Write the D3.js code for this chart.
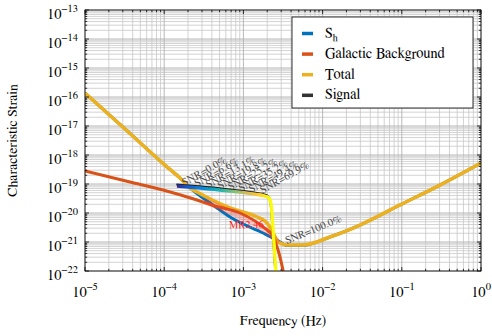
<!DOCTYPE html>
<html><head><meta charset="utf-8">
<script src="https://cdn.jsdelivr.net/npm/d3@7"></script>
<style>
body{margin:0;background:#fff}
svg{display:block}
svg text{font-family:"Nimbus Roman","Nimbus Roman No9 L","FreeSerif","Liberation Serif","DejaVu Serif","Times",serif}
</style></head><body>
<svg id="chart" width="492" height="336"></svg>
<script>
// ---- data ----
const shFreq   = [1e-5, 3.2e-5, 1.02e-4, 1.58e-4, 2.0e-4, 4.13e-4, 6.78e-4, 1.77e-3, 2.65e-3, 3.56e-3, 5.66e-3, 1.24e-2, 2.97e-2, 9.49e-2, 0.303, 1];
const shStrain = [1.37e-16, 7.9e-18, 4.5e-19, 1.61e-19, 8.5e-20, 1.89e-20, 7.3e-21, 2.04e-21, 1.17e-21, 7.6e-22, 7.7e-22, 1.49e-21, 3.85e-21, 1.89e-20, 9.2e-20, 5.3e-19];

const galFreq   = [1e-5, 3.7e-5, 9.66e-5, 2.6e-4, 4.38e-4, 9.06e-4, 1.77e-3, 2.37e-3, 2.74e-3, 3.16e-3, 3.35e-3];
const galStrain = [2.8e-19, 1.17e-19, 6.2e-20, 2.8e-20, 1.74e-20, 1.0e-20, 3.3e-21, 1.49e-21, 5.3e-22, 1.08e-22, 4.9e-23];

const totFreq   = [1e-5, 3.2e-5, 1.02e-4, 1.58e-4, 2.12e-4, 2.6e-4, 6.78e-4, 1.49e-3, 1.99e-3, 2.37e-3, 2.74e-3, 3.56e-3, 5.66e-3, 1.24e-2, 2.97e-2, 9.49e-2, 0.303, 1];
const totStrain = [1.37e-16, 7.9e-18, 4.5e-19, 1.61e-19, 7.3e-20, 5.3e-20, 1.49e-20, 7.3e-21, 4.5e-21, 2.04e-21, 1.0e-21, 7.9e-22, 7.9e-22, 1.49e-21, 3.85e-21, 1.89e-20, 9.2e-20, 5.3e-19];

const mrFreq   = [3.27e-4, 6.78e-4, 1.40e-3, 2.17e-3, 2.74e-3];
const mrStrain = [2.6e-20, 1.08e-20, 4.2e-21, 1.89e-21, 9.2e-22];
const mrLabel  = 'MR2.46';

const sigFreq   = [1.45e-4, 2.83e-4, 6.78e-4, 1.40e-3, 1.87e-3, 2.10e-3, 2.23e-3, 2.37e-3, 2.51e-3, 2.65e-3];
const sigStrain = [8.5e-20, 7.3e-20, 5.7e-20, 4.5e-20, 3.85e-20, 3.3e-20, 2.04e-20, 2.6e-21, 2.4e-22, 2.2e-23];

const snrText   = ['SNR=0.0%', 'SNR=6.6%', 'SNR=13.1%', 'SNR=19.8%', 'SNR=25.2%', 'SNR=35.2%', 'SNR=49.4%', 'SNR=69.9%', 'SNR=100.0%'];
const snrFreq   = [1.6e-4, 2.3e-4, 3.2e-4, 4.5e-4, 6.1e-4, 8.3e-4, 1.12e-3, 1.55e-3, 3.16e-3];
const snrStrain = [7.9e-20, 7.3e-20, 6.6e-20, 6.0e-20, 5.5e-20, 5.0e-20, 4.6e-20, 4.3e-20, 7.9e-22];

const xTickExp = [-5, -4, -3, -2, -1, 0];
const yTickExp = [-22, -21, -20, -19, -18, -17, -16, -15, -14, -13];

const legendNames = ['S', 'Galactic Background', 'Total', 'Signal'];
const colors = {sh: '#0072BD', gal: '#D95319', tot: '#EDB120', sig: '#262626'};
const parula = ['#352a87', '#0f5cdd', '#1481d6', '#06a4ca', '#2eb7a4', '#87bf77', '#d1bb59', '#fec832', '#f9fb0e'];

// ---- layout ----
const svg = d3.select('#chart');
const L = 85, R = 481, T = 10, B = 271;
const x = d3.scaleLog().domain([1e-5, 1]).range([L, R]);
const y = d3.scaleLog().domain([1e-22, 1e-13]).range([B, T]);

const defs = svg.append('defs');
defs.append('clipPath').attr('id', 'clip')
  .append('rect').attr('x', L).attr('y', T).attr('width', R - L).attr('height', B - T);

const grad = defs.append('linearGradient').attr('id', 'sigGrad')
  .attr('gradientUnits', 'userSpaceOnUse')
  .attr('x1', x(sigFreq[0])).attr('x2', x(sigFreq[5])).attr('y1', 0).attr('y2', 0);
parula.forEach((c, i) => grad.append('stop').attr('offset', i / (parula.length - 1)).attr('stop-color', c));

// ---- grid ----
const minorOf = (lo, hi) => {
  const out = [];
  for (let e = lo; e < hi; e++) for (let k = 2; k <= 9; k++) out.push(k * Math.pow(10, e));
  return out;
};
const xMinor = minorOf(-5, 0), yMinor = minorOf(-22, -13);
const xMajor = xTickExp.map(e => Math.pow(10, e)), yMajor = yTickExp.map(e => Math.pow(10, e));

const grid = svg.append('g');
grid.selectAll('line.vx').data(xMinor).join('line')
  .attr('x1', d => x(d)).attr('x2', d => x(d)).attr('y1', T).attr('y2', B)
  .attr('stroke', '#c8c8c8').attr('stroke-width', 0.8);
grid.selectAll('line.hy').data(yMinor).join('line')
  .attr('x1', L).attr('x2', R).attr('y1', d => y(d)).attr('y2', d => y(d))
  .attr('stroke', '#c8c8c8').attr('stroke-width', 0.8);
grid.selectAll('line.vX').data(xMajor).join('line')
  .attr('x1', d => x(d)).attr('x2', d => x(d)).attr('y1', T).attr('y2', B)
  .attr('stroke', '#b0b0b0').attr('stroke-width', 0.9);
grid.selectAll('line.hY').data(yMajor).join('line')
  .attr('x1', L).attr('x2', R).attr('y1', d => y(d)).attr('y2', d => y(d))
  .attr('stroke', '#b0b0b0').attr('stroke-width', 0.9);

// ---- curves ----
const plot = svg.append('g').attr('clip-path', 'url(#clip)');
const line = d3.line().x(d => x(d[0])).y(d => y(d[1])).curve(d3.curveMonotoneX);
const zip = (a, b) => a.map((v, i) => [v, b[i]]);

plot.append('path').attr('d', line(zip(shFreq, shStrain)))
  .attr('fill', 'none').attr('stroke', colors.sh).attr('stroke-width', 3);
plot.append('path').attr('d', line(zip(totFreq, totStrain)))
  .attr('fill', 'none').attr('stroke', colors.tot).attr('stroke-width', 3.6);
plot.append('path').attr('d', line(zip(galFreq, galStrain)))
  .attr('fill', 'none').attr('stroke', colors.gal).attr('stroke-width', 3);
plot.append('path').attr('d', line(zip(mrFreq, mrStrain)))
  .attr('fill', 'none').attr('stroke', '#ff2a2a').attr('stroke-opacity', 0.25).attr('stroke-width', 6);

// signal: thin black trace just above a parula-coloured band
plot.append('path').attr('d', line(zip(sigFreq, sigStrain)))
  .attr('transform', 'translate(-0.6,-1.6)')
  .attr('fill', 'none').attr('stroke', '#111').attr('stroke-width', 2);
plot.append('path').attr('d', line(zip(sigFreq, sigStrain)))
  .attr('fill', 'none').attr('stroke', 'url(#sigGrad)').attr('stroke-width', 3.4);

// ---- annotations ----
plot.append('text').attr('x', x(mrFreq[1]) - 1).attr('y', y(mrStrain[2]) + 4)
  .attr('fill', '#ff2020').attr('font-size', 10.5).text(mrLabel);

plot.selectAll('text.snr').data(snrText).join('text')
  .attr('class', 'snr')
  .attr('transform', (d, i) => `translate(${x(snrFreq[i]) + 4},${y(snrStrain[i]) - 1}) rotate(${i === 8 ? -22 : -29})`)
  .attr('fill', '#4a4a4a').attr('font-size', 10.8).text(d => d);

// ---- frame + inward ticks ----
const ax = svg.append('g').attr('stroke', '#000').attr('stroke-width', 0.8);
ax.append('rect').attr('x', L).attr('y', T).attr('width', R - L).attr('height', B - T).attr('fill', 'none');
const tick = (vals, len, horiz) => vals.forEach(v => {
  if (horiz) {
    ax.append('line').attr('x1', x(v)).attr('x2', x(v)).attr('y1', B).attr('y2', B - len);
    ax.append('line').attr('x1', x(v)).attr('x2', x(v)).attr('y1', T).attr('y2', T + len);
  } else {
    ax.append('line').attr('y1', y(v)).attr('y2', y(v)).attr('x1', L).attr('x2', L + len);
    ax.append('line').attr('y1', y(v)).attr('y2', y(v)).attr('x1', R).attr('x2', R - len);
  }
});
tick(xMajor, 4, true); tick(xMinor, 2.2, true);
tick(yMajor, 4, false); tick(yMinor, 2.2, false);

// ---- tick labels ----
const tl = svg.append('g').attr('fill', '#000');
xTickExp.forEach(e => {
  const t = tl.append('text').attr('x', x(Math.pow(10, e))).attr('y', 297).attr('text-anchor', 'middle').attr('font-size', 14.5);
  t.append('tspan').text('10');
  t.append('tspan').attr('dy', -7).attr('font-size', 10.5).text(e < 0 ? '\u2212' + (-e) : e);
});
yTickExp.forEach(e => {
  const t = tl.append('text').attr('x', 78).attr('y', y(Math.pow(10, e)) + 9).attr('text-anchor', 'end').attr('font-size', 14.5);
  t.append('tspan').text('10');
  t.append('tspan').attr('dy', -7).attr('font-size', 10.5).text('\u2212' + (-e));
});

// ---- axis titles ----
svg.append('text').attr('x', (L + R) / 2).attr('y', 325).attr('text-anchor', 'middle')
  .attr('font-size', 14).text('Frequency (Hz)');
svg.append('text').attr('transform', `translate(17,${(T + B) / 2}) rotate(-90)`).attr('text-anchor', 'middle')
  .attr('font-size', 14).text('Characteristic Strain');

// ---- legend ----
const lg = svg.append('g');
lg.append('rect').attr('x', 292).attr('y', 17).attr('width', 181).attr('height', 91)
  .attr('fill', '#fff').attr('stroke', '#000').attr('stroke-width', 0.8);
const legColors = [colors.sh, colors.gal, colors.tot, '#333'];
legendNames.forEach((n, i) => {
  const by = 37.5 + i * 20.6;
  lg.append('line').attr('x1', 302).attr('x2', 313).attr('y1', by - 4).attr('y2', by - 4)
    .attr('stroke', legColors[i]).attr('stroke-width', 3.5);
  const t = lg.append('text').attr('x', 325).attr('y', by).attr('font-size', 14.5).text(n);
  if (i === 0) t.append('tspan').attr('dy', 3).attr('font-size', 10).text('h');
});
</script>
</body></html>
